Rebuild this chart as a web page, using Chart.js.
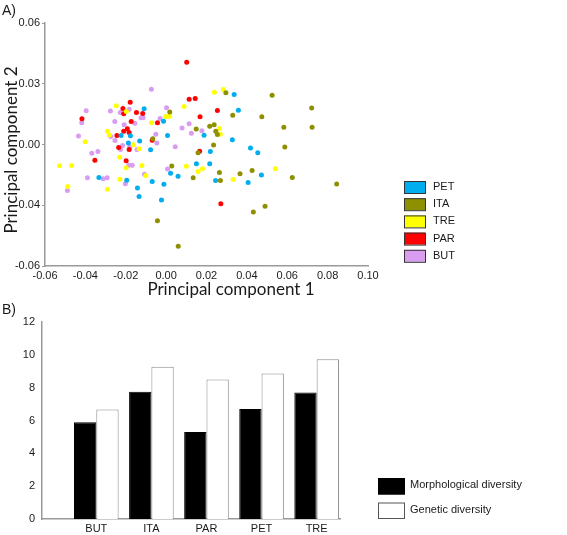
<!DOCTYPE html>
<html><head><meta charset="utf-8">
<script src="https://cdn.jsdelivr.net/npm/chart.js@4.4.1/dist/chart.umd.min.js"></script>
<style>
html,body{margin:0;padding:0;background:#fff;width:567px;height:535px;overflow:hidden}
.w{position:absolute;left:0}
</style></head><body>
<div class="w" style="top:0"><canvas id="a" width="567" height="300"></canvas></div>
<div class="w" style="top:300px"><canvas id="b" width="567" height="235"></canvas></div>
<script>
// ---------- Panel A data ----------
const groups = ['PET','ITA','TRE','PAR','BUT'];
const petX = [-0.0109,-0.0013,-0.0223,-0.0177,0.0007,-0.0131,-0.0187,-0.0077,0.0337,0.0358,0.0188,0.0328,0.0219,0.0418,0.0454,0.0150,0.0216,0.0022,0.0059,-0.0333,-0.0195,-0.0069,-0.0011,0.0245,0.0406,0.0472,-0.0142,-0.0134,-0.0023];
const petY = [0.0176,0.0115,0.0044,0.0043,0.0044,0.0017,0.0007,-0.0026,0.0247,0.0169,0.0046,0.0023,-0.0035,-0.0017,-0.0041,-0.0095,-0.0095,-0.0142,-0.0157,-0.0163,-0.0176,-0.0183,-0.0196,-0.0178,-0.0188,-0.0150,-0.0215,-0.0257,-0.0274];
const itaX = [0.0018,0.0296,0.0525,0.0721,0.0330,0.0474,0.0149,0.0216,0.0238,0.0583,0.0723,0.0246,0.0254,-0.0066,0.0235,0.0158,0.0588,0.0028,0.0134,0.0264,0.0366,0.0426,0.0625,0.0269,0.0845,0.0490,0.0432,-0.0043,0.0060];
const itaY = [0.0160,0.0255,0.0243,0.0180,0.0145,0.0137,0.0076,0.0090,0.0097,0.0085,0.0085,0.0066,0.0049,0.0028,-0.0002,-0.0041,-0.0012,-0.0106,-0.0164,-0.0138,-0.0145,-0.0128,-0.0163,-0.0178,-0.0195,-0.0305,-0.0333,-0.0377,-0.0503];
const treX = [-0.0247,-0.0197,-0.0073,-0.0002,0.0016,0.0089,0.0239,0.0284,-0.0291,-0.0281,-0.0401,0.0264,0.0268,-0.0163,-0.0134,-0.0230,-0.0528,-0.0468,-0.0198,-0.0120,0.0100,0.0180,0.0158,-0.0100,0.0541,-0.0229,0.0332,-0.0487,-0.0291];
const treY = [0.0191,0.0163,0.0107,0.0138,0.0140,0.0188,0.0258,0.0272,0.0065,0.0047,0.0014,0.0079,0.0051,-0.0001,-0.0021,-0.0063,-0.0105,-0.0104,-0.0115,-0.0104,-0.0108,-0.0120,-0.0133,-0.0153,-0.0120,-0.0172,-0.0173,-0.0208,-0.0221];
const parX = [0.0102,-0.0178,0.0114,0.0144,0.0168,-0.0417,-0.0214,-0.0210,-0.0147,-0.0116,-0.0173,-0.0043,0.0254,-0.0192,-0.0210,-0.0183,-0.0244,-0.0069,-0.0235,-0.0183,0.0166,-0.0353,-0.0198,0.0271];
const parY = [0.0406,0.0209,0.0224,0.0227,0.0137,0.0127,0.0178,0.0152,0.0158,0.0153,0.0113,0.0107,0.0168,0.0078,0.0066,0.0059,0.0044,0.0021,-0.0015,-0.0025,-0.0033,-0.0078,-0.0080,-0.0293];
const butX = [-0.0073,-0.0396,-0.0418,-0.0276,-0.0227,-0.0183,0.0002,-0.0254,-0.0155,-0.0124,-0.0114,-0.0030,0.0079,0.0114,0.0125,0.0177,-0.0208,-0.0434,-0.0274,-0.0253,-0.0051,-0.0046,0.0045,-0.0216,-0.0226,-0.0180,-0.0144,-0.0368,-0.0338,-0.0185,-0.0168,0.0007,-0.0107,-0.0390,-0.0312,-0.0292,-0.0202,-0.0489];
const butY = [0.0273,0.0167,0.0108,0.0165,0.0158,0.0174,0.0181,0.0113,0.0105,0.0132,0.0132,0.0129,0.0081,0.0102,0.0055,0.0068,0.0098,0.0042,0.0040,0.0020,0.0051,0.0008,-0.0011,-0.0005,-0.0025,-0.0011,-0.0025,-0.0043,-0.0035,-0.0103,-0.0103,-0.0121,-0.0147,-0.0164,-0.0169,-0.0164,-0.0194,-0.0227];
const xTickValues = [-0.06,-0.04,-0.02,0,0.02,0.04,0.06,0.08,0.10];
const xTickLabels = ['-0.06','-0.04','-0.02','0.00','0.02','0.04','0.06','0.08','0.10'];
const yTickValues = [-0.06,-0.03,0,0.03,0.06];
const yTickLabels = ['-0.06','-0.04','0.00','0.03','0.06'];
const xTitleA = 'Principal component 1';
const yTitleA = 'Principal component 2';

// ---------- Panel B data ----------
const barCats = ['BUT','ITA','PAR','PET','TRE'];
const morphDiv = [5.9, 7.75, 5.3, 6.7, 7.7];
const genDiv = [6.67, 9.27, 8.5, 8.87, 9.73];
const barSeries = ['Morphological diversity','Genetic diversity'];

// ---------- styles ----------
const groupColors = {PET:'#00AEEF', ITA:'#8F9000', TRE:'#FFFF00', PAR:'#FF0000', BUT:'#D89CF0'};
const axisColor = '#9a9a9a';
const textColor = '#1a1a1a';
const tickFont = {family:'"Liberation Sans", Arial, sans-serif', size:11};

const seriesA = {PET:[petX,petY], ITA:[itaX,itaY], TRE:[treX,treY], PAR:[parX,parY], BUT:[butX,butY]};
const pts = (xs, ys) => xs.map((x,i)=>({x:x, y:ys[i]}));

const decoA = {
  id:'decoA',
  afterDraw(chart){
    const ctx = chart.ctx;
    ctx.save();
    ctx.fillStyle = textColor;
    ctx.textBaseline = 'middle';
    ctx.font = '14px "Liberation Sans", Arial, sans-serif';
    ctx.textAlign = 'left';
    ctx.fillText('A)', 2, 11);
    ctx.font = '17px Lato, sans-serif';
    ctx.textAlign = 'center';
    ctx.fillText(xTitleA, 231, 290);
    ctx.save();
    ctx.translate(12, 150);
    ctx.rotate(-Math.PI/2);
    ctx.fillText(yTitleA, 0, 0);
    ctx.restore();
    chart.data.datasets.forEach((ds,i)=>{
      const cy = 187 + i*17.2;
      ctx.fillStyle = ds.backgroundColor;
      ctx.fillRect(404, cy-6, 21, 12);
      ctx.strokeStyle = '#333';
      ctx.lineWidth = 1;
      ctx.strokeRect(404.5, cy-5.5, 21, 12);
      ctx.fillStyle = textColor;
      ctx.font = '11px "Liberation Sans", Arial, sans-serif';
      ctx.textAlign = 'left';
      ctx.fillText(ds.label, 433, cy);
    });
    ctx.restore();
  }
};

new Chart(document.getElementById('a'), {
  type:'scatter',
  data:{datasets: groups.map(g=>({
    label:g,
    data:pts(seriesA[g][0], seriesA[g][1]),
    backgroundColor:groupColors[g],
    borderColor:groupColors[g],
    pointRadius:2.5, pointBorderWidth:0, pointHoverRadius:2.5
  }))},
  options:{
    responsive:false, animation:false, devicePixelRatio:1,
    layout:{padding:{left:0, top:23, right:199, bottom:0}},
    plugins:{legend:{display:false}, tooltip:{enabled:false}},
    scales:{
      x:{type:'linear', min:-0.06, max:0.10,
        afterBuildTicks:s=>{s.ticks = xTickValues.map(v=>({value:v}));},
        afterFit:s=>{s.height = 34;},
        grid:{display:false, drawTicks:false, tickLength:0},
        border:{display:true, color:axisColor, width:1.5},
        ticks:{font:tickFont, color:textColor, padding:3, maxRotation:0, autoSkip:false,
          callback:(v,i)=>xTickLabels[i]}
      },
      y:{type:'linear', min:-0.06, max:0.06,
        afterBuildTicks:s=>{s.ticks = yTickValues.map(v=>({value:v}));},
        afterFit:s=>{s.width = 45;},
        grid:{display:true, drawOnChartArea:false, tickLength:3, color:axisColor, lineWidth:1},
        border:{display:true, color:axisColor, width:1.5},
        ticks:{font:tickFont, color:textColor, padding:2, autoSkip:false,
          callback:(v,i)=>yTickLabels[i]}
      }
    }
  },
  plugins:[decoA]
});

const decoB = {
  id:'decoB',
  afterDraw(chart){
    const ctx = chart.ctx;
    ctx.save();
    ctx.fillStyle = textColor;
    ctx.textBaseline = 'middle';
    ctx.font = '14px "Liberation Sans", Arial, sans-serif';
    ctx.textAlign = 'left';
    ctx.fillText('B)', 2, 10);
    chart.data.datasets.forEach((ds,i)=>{
      const top = 178 + i*24.5;
      ctx.fillStyle = ds.backgroundColor;
      ctx.fillRect(378, top, 27, 16.5);
      ctx.strokeStyle = i===0 ? '#000' : '#555';
      ctx.lineWidth = 1;
      ctx.strokeRect(378.5, top+0.5, 26, 15.5);
      ctx.fillStyle = textColor;
      ctx.font = '11px "Liberation Sans", Arial, sans-serif';
      ctx.fillText(ds.label, 410, top + 7);
    });
    ctx.restore();
  }
};

new Chart(document.getElementById('b'), {
  type:'bar',
  data:{datasets:[
    {label:barSeries[0], data:barCats.map((c,i)=>({x:i, y:morphDiv[i]})),
      backgroundColor:'#000000', borderColor:'#000000', borderWidth:1},
    {label:barSeries[1], data:barCats.map((c,i)=>({x:i, y:genDiv[i]})),
      backgroundColor:'#ffffff', borderColor:'#8a8a8a', borderWidth:1}
  ]},
  options:{
    responsive:false, animation:false, devicePixelRatio:1,
    categoryPercentage:0.81, barPercentage:1.0,
    layout:{padding:{left:0, top:22, right:227, bottom:0}},
    plugins:{legend:{display:false}, tooltip:{enabled:false}},
    scales:{
      x:{type:'linear', min:-0.986, max:4.424, offset:false,
        afterBuildTicks:s=>{s.ticks = barCats.map((c,i)=>({value:i}));},
        afterFit:s=>{s.height = 16;},
        grid:{display:false, offset:false, drawTicks:false, tickLength:0},
        border:{display:true, color:axisColor, width:1.5},
        ticks:{font:tickFont, color:textColor, padding:3, maxRotation:0, autoSkip:false,
          callback:(v,i)=>barCats[i]}
      },
      y:{type:'linear', min:0, max:12,
        afterFit:s=>{s.width = 42;},
        grid:{display:false, drawTicks:false, tickLength:0},
        border:{display:true, color:axisColor, width:1.5},
        ticks:{font:tickFont, color:textColor, padding:7, stepSize:2}
      }
    }
  },
  plugins:[decoB]
});
</script></body></html>
